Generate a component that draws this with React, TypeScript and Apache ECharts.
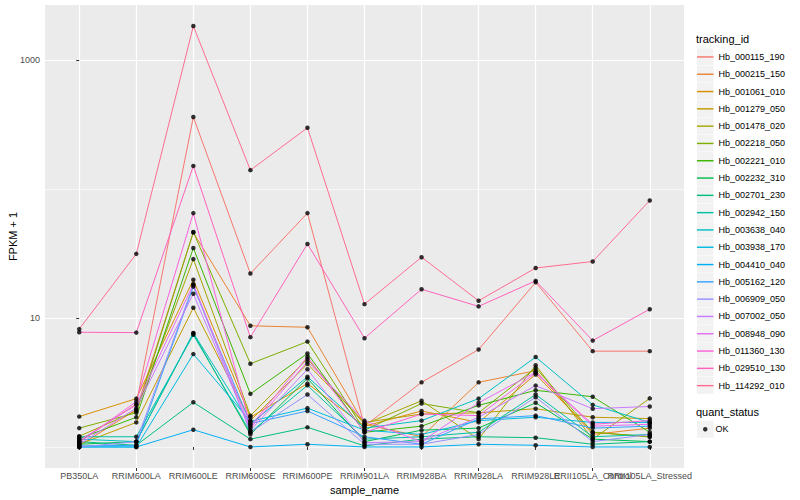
import React, { useEffect, useRef } from 'react';
import * as echarts from 'echarts';

const categories = [
  'PB350LA', 'RRIM600LA', 'RRIM600LE', 'RRIM600SE', 'RRIM600PE', 'RRIM901LA',
  'RRIM928BA', 'RRIM928LA', 'RRIM928LE', 'RRII105LA_Control', 'RRII105LA_Stressed',
];

const trackingIds = [
  'Hb_000115_190', 'Hb_000215_150', 'Hb_001061_010', 'Hb_001279_050', 'Hb_001478_020',
  'Hb_002218_050', 'Hb_002221_010', 'Hb_002232_310', 'Hb_002701_230', 'Hb_002942_150',
  'Hb_003638_040', 'Hb_003938_170', 'Hb_004410_040', 'Hb_005162_120', 'Hb_006909_050',
  'Hb_007002_050', 'Hb_008948_090', 'Hb_011360_130', 'Hb_029510_130', 'Hb_114292_010',
];

// FPKM + 1 per sample (same order as categories)
const hb_000115_190 = [1.10, 2.15, 361, 22.1, 65, 1.45, 3.17, 5.69, 18.9, 5.53, 5.53];
const hb_000215_150 = [1.02, 1.95, 46, 8.7, 8.47, 1.5, 1.2, 3.17, 3.9, 1.25, 1.4];
const hb_001061_010 = [1.72, 2.37, 19.8, 1.7, 3.1, 1.45, 1.9, 1.55, 3.65, 1.3, 1.2];
const hb_001279_050 = [1.05, 1.55, 12.0, 1.6, 4.4, 1.55, 1.8, 1.84, 1.98, 1.7, 1.66];
const hb_001478_020 = [1.21, 1.9, 28.6, 1.75, 4.82, 1.5, 2.28, 1.15, 4.3, 1.15, 2.38];
const hb_002218_050 = [1.40, 1.84, 46.4, 4.42, 6.56, 1.35, 2.17, 1.84, 4.1, 1.3, 1.2];
const hb_002221_010 = [1.16, 1.7, 34.9, 2.58, 5.3, 1.3, 1.45, 2.1, 2.75, 2.45, 1.3];
const hb_002232_310 = [1.05, 1.1, 7.6, 1.25, 3.4, 1.1, 1.35, 1.4, 2.2, 1.15, 1.1];
const hb_002701_230 = [1.1, 1.03, 2.22, 1.15, 1.42, 1.02, 1.15, 1.2, 1.18, 1.05, 1.1];
const hb_002942_150 = [1.2, 1.2, 7.4, 1.3, 3.0, 1.15, 1.2, 1.3, 2.55, 1.2, 1.25];
const hb_003638_040 = [1.15, 1.1, 7.66, 1.5, 3.5, 1.4, 1.6, 2.37, 4.98, 2.12, 1.55];
const hb_003938_170 = [1.0, 1.0, 5.25, 1.58, 2.0, 1.35, 1.25, 1.6, 1.7, 1.55, 1.55];
const hb_004410_040 = [1.0, 1.0, 1.36, 1.0, 1.05, 1.0, 1.0, 1.05, 1.03, 1.0, 1.0];
const hb_005162_120 = [1.02, 1.03, 17.5, 1.52, 1.9, 1.2, 1.05, 1.65, 1.75, 1.4, 1.45];
const hb_006909_050 = [1.0, 1.1, 18.0, 1.3, 2.55, 1.05, 1.05, 1.25, 2.43, 1.1, 1.25];
const hb_007002_050 = [1.05, 2.0, 15.4, 1.35, 4.0, 1.08, 1.1, 1.7, 2.99, 1.98, 2.06];
const hb_008948_090 = [1.12, 2.12, 18.3, 1.4, 4.6, 1.6, 1.1, 2.2, 3.8, 1.45, 1.5];
const hb_011360_130 = [1.08, 2.25, 65, 1.45, 5.0, 1.3, 1.8, 1.75, 3.75, 1.5, 1.6];
const hb_029510_130 = [7.75, 7.7, 151, 7.1, 37.5, 6.97, 16.7, 12.3, 19.4, 6.68, 11.7];
const hb_114292_010 = [8.2, 31.4, 1833, 140, 298, 12.8, 29.6, 13.6, 24.4, 27.4, 81.5];

const seriesValues = [
  hb_000115_190, hb_000215_150, hb_001061_010, hb_001279_050, hb_001478_020,
  hb_002218_050, hb_002221_010, hb_002232_310, hb_002701_230, hb_002942_150,
  hb_003638_040, hb_003938_170, hb_004410_040, hb_005162_120, hb_006909_050,
  hb_007002_050, hb_008948_090, hb_011360_130, hb_029510_130, hb_114292_010,
];

const colors = [
  '#F8766D', '#EA8331', '#D89000', '#C09B00', '#A3A500', '#7CAE00', '#39B600', '#00BB4E',
  '#00BF7D', '#00C1A3', '#00BFC4', '#00BAE0', '#00B0F6', '#35A2FF', '#9590FF', '#C77CFF',
  '#E76BF3', '#FA62DB', '#FF62BC', '#FF6C91',
];

const quantStatus = ['OK'];
const yTickValues = [10, 1000];
const yMin = 0.687;
const yMax = 2669;

export default function App() {
  const ref = useRef<HTMLDivElement>(null);

  useEffect(() => {
    document.body.style.margin = '0';
    const chart = echarts.init(ref.current as HTMLDivElement, null, { renderer: 'svg' });
    const font = "'Liberation Sans', Arial, Helvetica, sans-serif";
    const idx = categories.map((_, i) => i);
    // the labels of two neighbouring categories overlap in the original, so they are
    // split over two (identical) x axes to keep ECharts from hiding one of them
    const idxA = idx.filter((i) => i % 2 === 0);
    const idxB = idx.filter((i) => i % 2 === 1);
    const yTicksLog = yTickValues.map((v) => Math.log10(v));

    const lineSeries = trackingIds.map((id, k) => ({
      name: id,
      type: 'line',
      xAxisIndex: 0,
      yAxisIndex: 0,
      data: seriesValues[k].map((v, i) => [i, v]),
      symbol: 'none',
      showSymbol: false,
      lineStyle: { width: 1, color: colors[k] },
      itemStyle: { color: colors[k] },
      z: 2,
      silent: true,
    }));

    const points: number[][] = [];
    seriesValues.forEach((vals) => vals.forEach((v, i) => points.push([i, v])));
    const pointSeries = {
      name: quantStatus[0],
      type: 'scatter',
      xAxisIndex: 0,
      yAxisIndex: 0,
      data: points,
      symbol: 'circle',
      symbolSize: 4.5,
      itemStyle: { color: '#000000' },
      z: 3,
      silent: true,
    };

    const keyRects: any[] = trackingIds.map((_, i) => ({
      type: 'rect',
      silent: true,
      shape: { x: 697, y: 48.3 + i * 17.3, width: 16.5, height: 16.8 },
      style: { fill: '#F2F2F2' },
    }));
    keyRects.push({
      type: 'rect',
      silent: true,
      shape: { x: 697, y: 421, width: 16.5, height: 16.8 },
      style: { fill: '#F2F2F2' },
    });

    const xLabel = (vals: number[]) => ({
      customValues: vals,
      formatter: (v: number) => categories[Math.round(v)],
      color: '#4D4D4D',
      fontSize: 9,
      margin: 3,
      hideOverlap: false,
      showMinLabel: true,
      showMaxLabel: true,
    });
    const xTick = (vals: number[]) => ({
      show: true,
      length: 3,
      customValues: vals,
      lineStyle: { color: '#333333', width: 1 },
    });

    chart.setOption({
      animation: false,
      textStyle: { fontFamily: font },
      grid: {
        left: 45,
        top: 5,
        width: 639,
        height: 463,
        show: true,
        backgroundColor: '#EBEBEB',
        borderWidth: 0,
        containLabel: false,
        outerBoundsMode: 'none',
      },
      xAxis: [
        {
          type: 'value',
          min: -0.6,
          max: 10.6,
          position: 'bottom',
          axisLine: { show: false },
          axisTick: xTick(idxA),
          axisLabel: xLabel(idxA),
          splitLine: { show: true, lineStyle: { color: '#FFFFFF', width: 1.2 } },
          name: 'sample_name',
          nameLocation: 'middle',
          nameGap: 16,
          nameMoveOverlap: false,
          nameTextStyle: { fontSize: 11, color: '#000000' },
        },
        {
          type: 'value',
          min: -0.6,
          max: 10.6,
          position: 'bottom',
          offset: 0,
          axisLine: { show: false },
          axisTick: xTick(idxB),
          axisLabel: xLabel(idxB),
          splitLine: { show: true, lineStyle: { color: '#FFFFFF', width: 1.2 } },
        },
      ],
      yAxis: [
        {
          type: 'log',
          logBase: 10,
          min: yMin,
          max: yMax,
          axisLine: { show: false },
          axisTick: { show: false },
          axisLabel: { show: false },
          splitLine: {
            show: true,
            showMinLine: false,
            showMaxLine: false,
            lineStyle: { color: '#FFFFFF', width: 0.6 },
          },
        },
        {
          type: 'value',
          position: 'left',
          min: Math.log10(yMin),
          max: Math.log10(yMax),
          axisLine: { show: false },
          axisTick: { show: true, length: 3, customValues: yTicksLog, lineStyle: { color: '#333333', width: 1 } },
          axisLabel: {
            customValues: yTicksLog,
            formatter: (v: number) => String(Math.round(Math.pow(10, v))),
            color: '#4D4D4D',
            fontSize: 9,
            margin: 5,
            showMinLabel: true,
            showMaxLabel: true,
          },
          splitLine: { show: true, lineStyle: { color: '#FFFFFF', width: 1.2 } },
          name: 'FPKM + 1',
          nameLocation: 'middle',
          nameGap: 27,
          nameMoveOverlap: false,
          nameTextStyle: { fontSize: 11, color: '#000000' },
        },
      ],
      legend: [
        {
          data: trackingIds,
          orient: 'vertical',
          left: 697,
          top: 48.3,
          padding: 0,
          itemWidth: 16.5,
          itemHeight: 17.3,
          itemGap: 0,
          selectedMode: false,
          icon: 'path://M0,0H15V1.3H0Z',
          textStyle: { fontSize: 9, color: '#000000', fontFamily: font, lineHeight: 17.3 },
        },
        {
          data: quantStatus,
          orient: 'vertical',
          left: 703,
          top: 423.3,
          padding: 0,
          itemWidth: 4.5,
          itemHeight: 4.5,
          itemGap: 0,
          selectedMode: false,
          icon: 'circle',
          textStyle: { fontSize: 9, color: '#000000', fontFamily: font, lineHeight: 12, padding: [0, 0, 0, 3] },
        },
      ],
      graphic: [
        ...keyRects,
        {
          type: 'text',
          silent: true,
          left: 696,
          top: 33,
          style: { text: 'tracking_id', fontSize: 11, fill: '#000000', fontFamily: font },
        },
        {
          type: 'text',
          silent: true,
          left: 696,
          top: 406,
          style: { text: 'quant_status', fontSize: 11, fill: '#000000', fontFamily: font },
        },
      ],
      series: [...lineSeries, pointSeries],
    });

    return () => {
      chart.dispose();
    };
  }, []);

  return <div ref={ref} style={{ width: 800, height: 500 }} />;
}
